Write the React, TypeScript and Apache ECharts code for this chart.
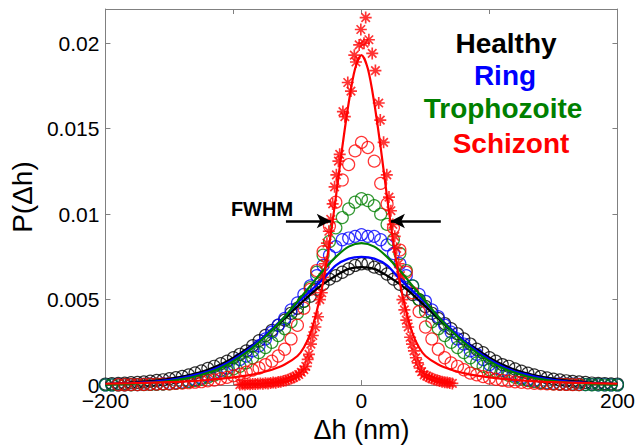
import React, { useEffect, useRef } from "react";
import * as echarts from "echarts";

// ---- data ----
const binX = [-200,-195,-190,-185,-180,-175,-170,-165,-160,-155,-150,-145,-140,-135,-130,-125,-120,-115,-110,-105,-100,-95,-90,-85,-80,-75,-70,-65,-60,-55,-50,-45,-40,-35,-30,-25,-20,-15,-10,-5,0,5,10,15,20,25,30,35,40,45,50,55,60,65,70,75,80,85,90,95,100,105,110,115,120,125,130,135,140,145,150,155,160,165,170,175,180,185,190,195,200];

const healthyP = [0.00006,0.00008,0.0001,0.00011,0.00014,0.00016,0.00019,0.00023,0.00027,0.00031,0.00037,0.00043,0.00051,0.0006,0.00071,0.00083,0.00097,0.0011,0.00125,0.0014,0.0016,0.0018,0.002,0.0023,0.0026,0.0029,0.0032,0.0035,0.0038,0.0042,0.0045,0.0049,0.0052,0.0056,0.0059,0.0062,0.0064,0.0066,0.0068,0.007,
0.0071,
0.0071,0.0069,0.0068,0.0065,0.0062,0.0059,0.0056,0.0053,0.005,0.0046,0.0042,0.0039,0.0036,0.0033,0.003,0.0027,0.0024,0.0021,0.0019,0.0016,0.0014,0.0012,0.0011,0.00094,0.00081,0.0007,0.00059,0.0005,0.00042,0.00035,0.0003,0.00025,0.00021,0.00018,0.00015,0.00012,0.0001,0.00009,0.00007,0.00006];

const ringP = [0.00001,0.00001,0.00002,0.00002,0.00003,0.00003,0.00004,0.00005,0.00006,0.00008,0.0001,0.00013,0.00018,0.00024,0.00032,0.00042,0.00054,0.00069,0.00085,0.001,0.0012,0.0015,0.0017,0.002,0.0023,0.0027,0.0031,0.0035,0.0039,0.0044,0.0048,0.0053,0.0058,0.0064,0.007,0.0076,0.0081,0.0085,0.0086,0.0087,
0.0088,
0.0087,0.0087,0.0085,0.0082,0.0077,0.0071,0.0064,0.0058,0.0053,0.0049,0.0044,0.004,0.0035,0.0031,0.0027,0.0024,0.002,0.0018,0.0015,0.0012,0.001,0.00086,0.0007,0.00055,0.00043,0.00033,0.00025,0.00018,0.00013,0.0001,0.00008,0.00006,0.00005,0.00004,0.00003,0.00003,0.00002,0.00002,0.00001,0.00001];

const trophozoiteP = [0.00001,0.00001,0.00001,0.00002,0.00002,0.00003,0.00003,0.00004,0.00005,0.00006,0.00008,0.00011,0.00015,0.0002,0.00027,0.00035,0.00046,0.00058,0.0007,0.00082,0.00095,0.0011,0.0013,0.0016,0.0019,0.0022,0.0025,0.0029,0.0033,0.0037,0.0042,0.0049,0.0057,0.0066,0.0076,0.0084,0.0092,0.0098,0.0103,0.0107,
0.0109,
0.0108,0.0105,0.01,0.0094,0.0085,0.0077,0.0067,0.0058,0.005,0.0043,0.0037,0.0033,0.0029,0.0025,0.0022,0.0019,0.0016,0.0013,0.0011,0.0009,0.0008,0.0007,0.00057,0.00045,0.00035,0.00027,0.0002,0.00015,0.00011,0.00008,0.00006,0.00005,0.00004,0.00003,0.00003,0.00002,0.00002,0.00001,0.00001,0.00001];

const schizontP = [null,null,0.00002,0.00002,0.00003,0.00003,0.00004,0.00005,0.00006,0.00007,0.00008,0.0001,0.00012,0.00014,0.00017,0.0002,0.00025,0.0003,0.00037,0.00045,0.00054,0.00064,0.00075,0.00088,0.001,0.0012,0.0014,0.0017,0.0021,0.0027,0.0035,0.0045,0.0056,0.0067,0.0078,0.0093,0.0107,0.012,0.0129,0.0137,
0.0142,
0.0139,0.0131,0.0118,0.0106,0.0092,0.0079,0.0066,0.0054,0.0043,0.0034,0.0027,0.0021,0.0016,0.0013,0.0011,0.0009,0.0007,0.0006,0.0005,0.00041,0.00034,0.00028,0.00023,0.00019,0.00016,0.00013,0.00011,0.00009,0.00007,0.00006,0.00005,0.00004,0.00003,0.00003,null,null,null,null,null,null];

const fitX = [-200,-190,-180,-170,-160,-150,-140,-130,-120,-110,-100,-90,-80,-70,-60,-50,-40,-30,-20,-10,0,10,20,30,40,50,60,70,80,90,100,110,120,130,140,150,160,170,180,190,200];
const healthyFit = [0.00007,0.0001,0.00014,0.0002,0.00027,0.00037,0.0005,0.00068,0.0009,0.0012,0.0016,0.0021,0.0026,0.0032,0.0039,0.0046,0.0053,0.0059,0.0064,0.0068,0.0069,0.0068,0.0064,0.0059,0.0053,0.0046,0.0039,0.0032,0.0026,0.0021,0.0016,0.0012,0.0009,0.00068,0.0005,0.00037,0.00027,0.0002,0.00014,0.0001,0.00007];
const ringFit = [0.00005,0.00008,0.00011,0.00016,0.00022,0.00031,0.00043,0.0006,0.0008,0.0011,0.0015,0.002,0.0026,0.0033,0.004,0.0048,0.0055,0.0062,0.007,0.0074,0.0075,0.0074,0.007,0.0062,0.0055,0.0048,0.004,0.0033,0.0026,0.002,0.0015,0.0011,0.0008,0.0006,0.00043,0.00031,0.00022,0.00016,0.00011,0.00008,0.00005];
const trophozoiteFit = [0.00003,0.00005,0.00007,0.00011,0.00016,0.00024,0.00035,0.0005,0.00072,0.001,0.0014,0.0019,0.0025,0.0032,0.004,0.0049,0.0058,0.0067,0.0075,0.0081,0.0083,0.0081,0.0075,0.0067,0.0058,0.0049,0.004,0.0032,0.0025,0.0019,0.0014,0.001,0.00072,0.0005,0.00035,0.00024,0.00016,0.00011,0.00007,0.00005,0.00003];

const schizontFitX = [-200,-180,-160,-140,-120,-100,-90,-80,-70,-60,-50,-45,-40,-35,-30,-25,-20,-15,-10,-5,0,5,10,15,20,25,30,35,40,45,50,60,70,80,90,100,120,140,160,180,200];
const schizontFit = [0.00008,0.00011,0.00015,0.0002,0.0003,0.00045,0.00055,0.0007,0.0009,0.0012,0.0017,0.0022,0.003,0.0043,0.006,0.0083,0.011,0.0139,0.0165,0.0185,0.0193,0.0185,0.0165,0.0139,0.011,0.0083,0.006,0.0043,0.003,0.0022,0.0017,0.0012,0.0009,0.0007,0.00055,0.00045,0.0003,0.0002,0.00015,0.00011,0.00008];

const asteriskX = [-95,-93,-91,-89,-87,-85,-83,-81,-79,-77,-75,-73,-71,-69,-67,-65,-63,-61,-59,-57,-55,-53,-51,-49,-47,-45,-43.5,-42,-41,-39.5,-38,-36,-34,-32.5,-31,-30,-28.5,-27,-25.5,-24,-22.5,-21,-19.6,-18,-17,-14.5,-13,-10.7,-8.2,-5.6,-4.3,-1.8,-0.5,2,3.3,5.8,8.4,10.9,13.5,14.7,17.3,19.8,21.5,23,24.5,26,27.5,29,30.5,32,33.5,35,36.5,38,39.5,41,42.5,44,45.5,47,49,51,53,55,57,59,61,63,65,67,69,71];
const asteriskY = [0.00003,0.00005,0.00004,0.00006,0.00005,0.00007,0.00006,0.00008,0.00009,0.00008,0.00011,0.0001,0.00013,0.00015,0.00014,0.00018,0.0002,0.00024,0.00027,0.00033,0.00038,0.00045,0.00052,0.00062,0.00075,0.0009,0.0011,0.0015,0.0018,0.0024,0.0029,0.0034,0.004,0.005,0.0054,0.0063,0.0071,0.0083,0.009,0.0097,0.0106,0.0116,0.0123,0.0131,0.0135,0.016,0.0157,0.0177,0.0172,0.0193,0.0189,0.0199,0.0208,0.02,0.0215,0.0202,0.0194,0.0184,0.0165,0.0155,0.0142,0.0123,0.011,0.0102,0.0094,0.0087,0.008,0.0071,0.0064,0.005,0.0044,0.0038,0.0034,0.0028,0.0024,0.002,0.0016,0.0013,0.001,0.00078,0.0006,0.00052,0.00045,0.00038,0.00033,0.00028,0.00024,0.0002,0.00017,0.00015,0.00012,0.0001];

const legendNames = ["Healthy", "Ring", "Trophozoite", "Schizont"];
const legendColors = ["#000000", "#0000ff", "#008000", "#ff0000"];
const fwhmY = 0.0096;
const fwhmLeft = [-59, -24];
const fwhmRight = [62, 23];

const FONT = '"Liberation Sans", Arial, Helvetica, sans-serif';
const ASTERISK = "path://M-5,-0.7L5,-0.7L5,0.7L-5,0.7Z M-0.7,-5L0.7,-5L0.7,5L-0.7,5Z M-3.04,-4.03L4.03,3.04L3.04,4.03L-4.03,-3.04Z M-4.03,3.04L3.04,-4.03L4.03,-3.04L-3.04,4.03Z";

const pairs = (xs: number[], ys: (number | null)[]) =>
  xs.map((x, i) => [x, ys[i]]).filter((p) => p[1] !== null);

const fmtX = (v: number) => (v < 0 ? "\u2212" + Math.abs(v) : String(v));
const fmtY = (v: number) => String(+v.toFixed(3));

export default function App() {
  const ref = useRef<HTMLDivElement>(null);
  useEffect(() => {
    if (!ref.current) return;
    const chart = echarts.init(ref.current, undefined, { renderer: "svg" });
    const circle = (name: string, ys: (number | null)[], color: string) => ({
      name,
      type: "scatter",
      data: pairs(binX, ys),
      symbol: "circle",
      symbolSize: 12,
      itemStyle: { color: "rgba(0,0,0,0)", borderColor: color, borderWidth: 1.2 },
      silent: true,
    });
    const fit = (name: string, xs: number[], ys: number[], color: string, extra: any = {}) => ({
      name,
      type: "line",
      data: pairs(xs, ys),
      showSymbol: false,
      smooth: 0.3,
      lineStyle: { color, width: 2.2 },
      itemStyle: { color },
      silent: true,
      ...extra,
    });
    const axisLine = { show: true, onZero: false, lineStyle: { color: "#808080", width: 1 } };
    const axisTick = { show: true, inside: true, length: 5, lineStyle: { color: "#808080", width: 1 } };
    const option: any = {
      animation: false,
      grid: { left: 97, right: 17, top: 9, bottom: 58 },
      xAxis: [
        {
          type: "value", min: -200, max: 200, interval: 100, position: "bottom",
          axisLine, axisTick, splitLine: { show: false },
          axisLabel: { color: "#000", fontSize: 21, fontFamily: FONT, margin: 5, formatter: fmtX },
          name: "\u0394h (nm)", nameLocation: "middle", nameGap: 26,
          nameTextStyle: { color: "#000", fontSize: 27, fontFamily: FONT },
        },
        {
          type: "value", min: -200, max: 200, interval: 100, position: "top",
          axisLine, axisTick, splitLine: { show: false }, axisLabel: { show: false },
        },
      ],
      yAxis: [
        {
          type: "value", min: 0, max: 0.022, interval: 0.005, position: "left",
          axisLine, axisTick, splitLine: { show: false },
          axisLabel: { color: "#000", fontSize: 21, fontFamily: FONT, margin: 6, formatter: fmtY, showMaxLabel: false },
          name: "P(\u0394h)", nameLocation: "middle", nameGap: 62, nameRotate: 90,
          nameTextStyle: { color: "#000", fontSize: 28, fontFamily: FONT },
        },
        {
          type: "value", min: 0, max: 0.022, interval: 0.005, position: "right",
          axisLine, axisTick, splitLine: { show: false }, axisLabel: { show: false },
        },
      ],
      series: [
        circle("Healthy data", healthyP, legendColors[0]),
        fit("Healthy fit", fitX, healthyFit, legendColors[0]),
        circle("Ring data", ringP, legendColors[1]),
        fit("Ring fit", fitX, ringFit, legendColors[1]),
        circle("Trophozoite data", trophozoiteP, legendColors[2]),
        fit("Trophozoite fit", fitX, trophozoiteFit, legendColors[2]),
        circle("Schizont data", schizontP, legendColors[3]),
        {
          name: "Schizont single",
          type: "scatter",
          data: pairs(asteriskX, asteriskY),
          symbol: ASTERISK,
          symbolSize: 12,
          itemStyle: { color: legendColors[3] },
          silent: true,
        },
        fit("Schizont fit", schizontFitX, schizontFit, legendColors[3], {
          markLine: {
            silent: true,
            symbol: ["none", "arrow"],
            symbolSize: [11, 14],
            label: { show: false },
            lineStyle: { color: "#000", width: 2.5, type: "solid" },
            data: [
              [{ coord: [fwhmLeft[0], fwhmY] }, { coord: [fwhmLeft[1], fwhmY] }],
              [{ coord: [fwhmRight[0], fwhmY] }, { coord: [fwhmRight[1], fwhmY] }],
            ],
          },
        }),
      ],
      graphic: [
        ...legendNames.map((t, i) => ({
          type: "text",
          x: [506, 505, 503, 511][i],
          y: [43, 75, 108, 143][i],
          style: {
            text: t,
            fill: legendColors[i],
            font: `bold 28px ${FONT}`,
            align: "center",
            verticalAlign: "middle",
          },
        })),
        {
          type: "text",
          x: 262,
          y: 209,
          style: { text: "FWHM", fill: "#000", font: `bold 20px ${FONT}`, align: "center", verticalAlign: "middle" },
        },
      ],
    };
    chart.setOption(option);
    return () => chart.dispose();
  }, []);
  return <div ref={ref} style={{ position: "fixed", left: 0, top: 0, width: 638, height: 448, background: "#fff" }} />;
}
